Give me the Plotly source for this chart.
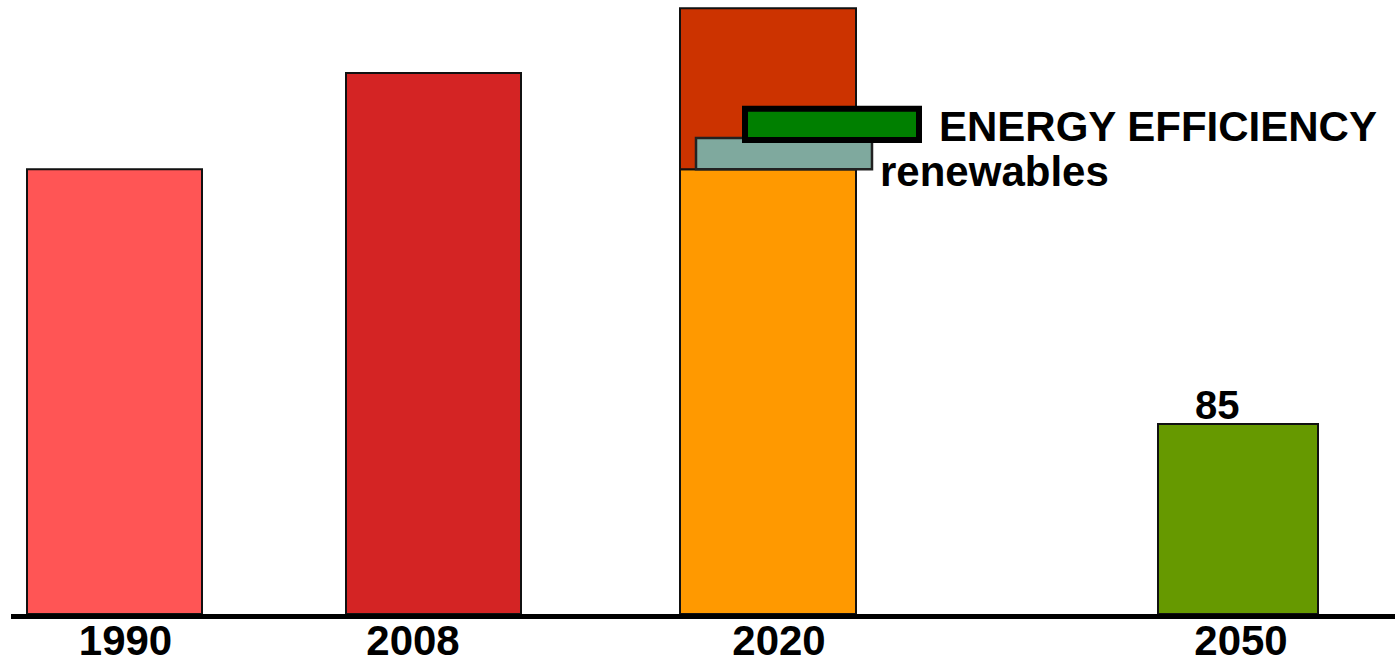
import plotly.graph_objects as go

# ---- data ----
years = ["1990", "2008", "2020", "2050"]
emissions = [199, 242, 271, 85]          # total height of each year's bar
base_2020 = 199                          # orange part of 2020 bar
renewables = 14                          # teal block
efficiency = 14                          # green block
efficiency_base = 212
label_2050 = "85"

# ---- layout (positions in pixel-like x units) ----
bar_pos = [114.5, 433.5, 768, 1238]
bar_w = [175, 175, 176, 160]
label_pos = [125.5, 413, 779, 1241]
ren_pos, ren_w = 784, 176
eff_pos, eff_w = 832, 174

colors = ["#FF5555", "#D42424", "#CC3300", "#669900"]
edge = dict(color="#111111", width=2)

fig = go.Figure()
# 1990, 2008, 2050
for i in (0, 1, 3):
    fig.add_trace(go.Bar(x=[bar_pos[i]], y=[emissions[i]], width=[bar_w[i]],
                         marker=dict(color=colors[i], line=edge)))
# 2020 orange base
fig.add_trace(go.Bar(x=[bar_pos[2]], y=[base_2020], width=[bar_w[2]],
                     marker=dict(color="#FF9900", line=edge)))
# 2020 red top
fig.add_trace(go.Bar(x=[bar_pos[2]], y=[emissions[2] - base_2020], base=[base_2020],
                     width=[bar_w[2]], marker=dict(color=colors[2], line=edge)))
# renewables
fig.add_trace(go.Bar(x=[ren_pos], y=[renewables], base=[base_2020], width=[ren_w],
                     marker=dict(color="#7FA99E", line=dict(color="#222222", width=2.5))))
# energy efficiency
fig.add_trace(go.Bar(x=[eff_pos], y=[efficiency], base=[efficiency_base], width=[eff_w],
                     marker=dict(color="#007F00", line=dict(color="#000000", width=6))))

fig.add_annotation(x=eff_pos + eff_w / 2, y=efficiency_base + efficiency / 2,
                   xref="x", yref="y", text="<b>ENERGY EFFICIENCY</b>", showarrow=False,
                   xanchor="left", yanchor="middle", xshift=18, yshift=-2,
                   font=dict(family="Liberation Sans, Arial", size=42, color="#000"))
fig.add_annotation(x=ren_pos + ren_w / 2, y=base_2020, xref="x", yref="y",
                   text="<b>renewables</b>", showarrow=False,
                   xanchor="left", yanchor="middle", xshift=6, yshift=-2,
                   font=dict(family="Liberation Sans, Arial", size=42, color="#000"))
fig.add_annotation(x=bar_pos[3] - 21, y=emissions[3], xref="x", yref="y",
                   text="<b>" + label_2050 + "</b>", showarrow=False,
                   xanchor="center", yanchor="bottom", yshift=-5,
                   font=dict(family="Liberation Sans, Arial", size=40, color="#000"))

fig.update_layout(
    width=1395, height=667,
    margin=dict(l=11, r=0, t=0, b=53, autoexpand=False),
    paper_bgcolor="white", plot_bgcolor="white",
    showlegend=False, barmode="overlay",
    xaxis=dict(range=[11, 1395], showgrid=False, zeroline=False, automargin=False,
               showline=True, linecolor="#000", linewidth=5,
               tickvals=label_pos, ticktext=["<b>%s</b>" % y for y in years],
               ticks="", ticklabelstandoff=-14,
               tickfont=dict(family="Liberation Sans, Arial", size=42, color="#000"),
               fixedrange=True),
    yaxis=dict(range=[0, 614 / 2.2353], visible=False, fixedrange=True, automargin=False),
)

fig.write_html("out.html", config={"displayModeBar": False},
               post_script="document.body.style.margin='0';"
                           "document.body.style.overflow='hidden';")
